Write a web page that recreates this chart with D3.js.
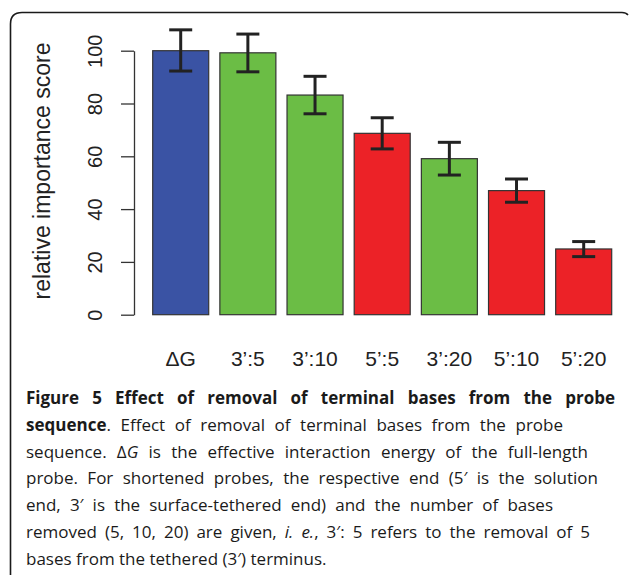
<!DOCTYPE html>
<html>
<head>
<meta charset="utf-8">
<script src="https://cdn.jsdelivr.net/npm/d3@7"></script>
<style>
  html, body { margin: 0; padding: 0; background: #fff; }
  svg { display: block; }
</style>
</head>
<body>
<svg id="chart" width="629" height="575"></svg>
<script>
// ---- data ----
const categories = ["\u0394G", "3\u2019:5", "3\u2019:10", "5\u2019:5", "3\u2019:20", "5\u2019:10", "5\u2019:20"];
const values     = [100, 99.2, 83.2, 68.7, 59.1, 47.0, 24.9];
const errLow     = [92.3, 92.0, 76.1, 62.8, 52.9, 42.6, 22.0];
const errHigh    = [107.9, 106.3, 90.3, 74.6, 65.3, 51.4, 27.7];
const barGroups  = ["dG", "3p", "3p", "5p", "3p", "5p", "5p"];
const yTicks     = [0, 20, 40, 60, 80, 100];
const yTitle     = "relative importance score";
const groupColors = { dG: "#3A53A4", "3p": "#6BBD45", "5p": "#EC2227" };

const svg = d3.select("#chart");

// ---- frame ----
svg.append("path")
  .attr("d", "M10.5,580 L10.5,24 Q10.5,12.5 22,12.5 L622,12.5 Q626,12.5 628,15")
  .attr("fill", "none").attr("stroke", "#1a1a1a").attr("stroke-width", 1.6);

// ---- scales ----
const x = d3.scaleBand().domain(categories).range([152.7, 611.7]).paddingInner(0.166).paddingOuter(0);
const y = d3.scaleLinear().domain([0, 100]).range([314.7, 50.7]);

// ---- bars ----
svg.append("g").selectAll("rect").data(categories).join("rect")
  .attr("x", d => x(d))
  .attr("y", (d, i) => y(values[i]))
  .attr("width", x.bandwidth())
  .attr("height", (d, i) => y(0) - y(values[i]))
  .attr("fill", (d, i) => groupColors[barGroups[i]])
  .attr("stroke", "#333").attr("stroke-width", 1.2);

// ---- error bars ----
const eg = svg.append("g").attr("stroke", "#222").attr("stroke-width", 3).attr("fill", "none");
categories.forEach((c, i) => {
  const cx = x(c) + x.bandwidth() / 2;
  eg.append("line").attr("x1", cx).attr("x2", cx).attr("y1", y(errLow[i])).attr("y2", y(errHigh[i]));
  eg.append("line").attr("x1", cx - 11.5).attr("x2", cx + 11.5).attr("y1", y(errLow[i])).attr("y2", y(errLow[i]));
  eg.append("line").attr("x1", cx - 11.5).attr("x2", cx + 11.5).attr("y1", y(errHigh[i])).attr("y2", y(errHigh[i]));
});

// ---- y axis ----
const ax = svg.append("g").attr("transform", "translate(134,0)")
  .call(d3.axisLeft(y).tickValues(yTicks).tickSize(13).tickSizeOuter(0).tickFormat(d3.format("d")));
ax.select(".domain").attr("stroke", "#333").attr("stroke-width", 1.3);
ax.selectAll(".tick line").attr("stroke", "#333").attr("stroke-width", 1.3);
ax.selectAll(".tick text")
  .attr("x", null).attr("dy", null)
  .attr("transform", "translate(-32,0) rotate(-90)")
  .attr("text-anchor", "middle")
  .attr("font-family", "'Liberation Sans', Arial, sans-serif")
  .attr("font-size", 20).attr("fill", "#222");

// ---- y title ----
svg.append("text")
  .attr("transform", "translate(50,171) rotate(-90)")
  .attr("text-anchor", "middle")
  .attr("font-family", "'Liberation Sans', Arial, sans-serif")
  .attr("font-size", 23).attr("fill", "#222")
  .text(yTitle);

// ---- x labels ----
svg.append("g").selectAll("text").data(categories).join("text")
  .attr("x", d => x(d) + x.bandwidth() / 2)
  .attr("y", 366)
  .attr("text-anchor", "middle")
  .attr("font-family", "'Liberation Sans', Arial, sans-serif")
  .attr("font-size", 21).attr("fill", "#222")
  .text(d => d);

// ---- caption ----
const captionLines = [
  [["Figure 5 Effect of removal of terminal bases from the probe", "b"]],
  [["sequence", "b"], [". Effect of removal of terminal bases from the probe", "n"]],
  [["sequence. ", "n"], ["\u0394", "n"], ["G", "i"], [" is the effective interaction energy of the full-length", "n"]],
  [["probe. For shortened probes, the respective end (5\u2032 is the solution", "n"]],
  [["end, 3\u2032 is the surface-tethered end) and the number of bases", "n"]],
  [["removed (5, 10, 20) are given, ", "n"], ["i. e.", "i"], [", 3\u2032: 5 refers to the removal of 5", "n"]],
  [["bases from the tethered (3\u2032) terminus.", "n"]]
];
const captionLineEnds = [615, 563, 588, 598, 553, 590, null];
const capX = 26;
const cap = svg.append("g")
  .attr("font-family", "'Open Sans', 'Noto Sans', sans-serif")
  .attr("font-size", 17).attr("fill", "#1a1a1a");
captionLines.forEach((segs, li) => {
  const t = cap.append("text").attr("x", capX).attr("y", 404 + li * 26.8);
  segs.forEach(([s, st]) => {
    t.append("tspan")
      .attr("font-weight", st === "b" ? 700 : 400)
      .attr("font-style", st === "i" ? "italic" : "normal")
      .text(s);
  });
  const target = captionLineEnds[li];
  if (target) {
    const natural = t.node().getComputedTextLength();
    const nSpaces = segs.map(s => s[0]).join("").split(" ").length - 1;
    const ws = (target - capX - natural) / nSpaces;
    if (ws > 0) t.attr("word-spacing", ws);
  }
});
</script>
</body>
</html>
